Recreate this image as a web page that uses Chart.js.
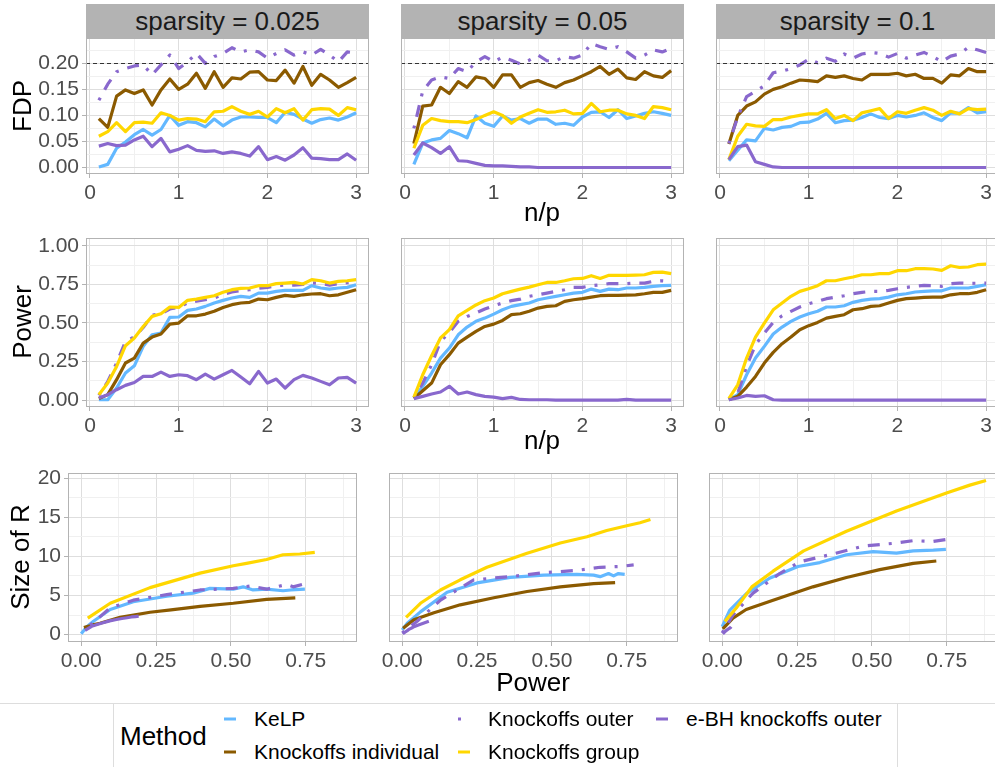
<!DOCTYPE html>
<html>
<head>
<meta charset="utf-8">
<script src="https://cdn.jsdelivr.net/npm/chart.js@4.4.1/dist/chart.umd.min.js"></script>
<style>
  html, body { margin: 0; padding: 0; background: #fff; overflow: hidden; }
  body { width: 995px; height: 767px; position: relative; font-family: 'Liberation Sans', Arial, sans-serif; }
  canvas { position: absolute; }
  .strip { position: absolute; background: #B3B3B3; color: #1a1a1a; font-size: 26px;
           display: flex; align-items: center; justify-content: center; }
  .title { position: absolute; transform: translate(-50%, -50%); white-space: nowrap; color: #000; font-size: 26px; }
  .ytitle { transform: translate(-50%, -50%) rotate(-90deg); }
  .legbox { position: absolute; border-left: 1px solid #DDDDDD; border-right: 1px solid #DDDDDD; }
  .legline { position: absolute; height: 1px; background: #DDDDDD; }
  .legtext { position: absolute; transform: translateY(-50%); white-space: nowrap; color: #000; font-size: 21px; }
</style>
</head>
<body>
<script>
// ---- data ----
const sparsity = ['0.025', '0.05', '0.1'];
const methods = ['KeLP', 'Knockoffs individual', 'Knockoffs outer', 'Knockoffs group', 'e-BH knockoffs outer'];
const nOverP = [0.1, 0.2, 0.3, 0.4, 0.5, 0.6, 0.7, 0.8, 0.9, 1.0, 1.1, 1.2, 1.3, 1.4, 1.5,
                1.6, 1.7, 1.8, 1.9, 2.0, 2.1, 2.2, 2.3, 2.4, 2.5, 2.6, 2.7, 2.8, 2.9, 3.0];

// FDP, sparsity 0.025
const fdpKelp025  = [0.001,0.006,0.037,0.049,0.063,0.073,0.062,0.073,0.100,0.081,0.088,0.086,0.078,0.093,0.080,0.091,0.097,0.097,0.096,0.096,0.086,0.106,0.102,0.093,0.085,0.092,0.095,0.091,0.097,0.105];
const fdpIndiv025 = [0.094,0.077,0.137,0.149,0.142,0.149,0.120,0.149,0.170,0.150,0.160,0.181,0.152,0.184,0.154,0.172,0.170,0.183,0.184,0.168,0.167,0.187,0.162,0.194,0.158,0.179,0.168,0.154,0.163,0.173];
const fdpOuter025 = [0.129,0.160,0.184,0.190,0.195,0.197,0.178,0.197,0.216,0.190,0.203,0.219,0.200,0.213,0.219,0.230,0.222,0.226,0.222,0.210,0.219,0.226,0.216,0.222,0.216,0.227,0.216,0.203,0.222,0.220];
const fdpGroup025 = [0.060,0.069,0.086,0.069,0.086,0.087,0.085,0.105,0.100,0.091,0.094,0.093,0.088,0.107,0.108,0.117,0.108,0.102,0.108,0.097,0.113,0.105,0.113,0.091,0.111,0.113,0.112,0.100,0.115,0.111];
const fdpEbh025   = [0.041,0.046,0.042,0.043,0.053,0.060,0.040,0.056,0.030,0.035,0.042,0.033,0.031,0.032,0.027,0.030,0.027,0.022,0.040,0.015,0.021,0.014,0.024,0.038,0.018,0.017,0.015,0.015,0.026,0.014];
// FDP, sparsity 0.05
const fdpKelp05  = [0.006,0.047,0.053,0.056,0.071,0.065,0.057,0.099,0.085,0.079,0.099,0.091,0.094,0.085,0.093,0.093,0.083,0.085,0.081,0.097,0.106,0.107,0.096,0.111,0.094,0.099,0.104,0.107,0.104,0.100];
const fdpIndiv05 = [0.046,0.118,0.120,0.154,0.142,0.165,0.154,0.174,0.171,0.154,0.178,0.178,0.154,0.163,0.167,0.160,0.154,0.163,0.168,0.176,0.184,0.194,0.179,0.189,0.172,0.169,0.184,0.176,0.173,0.186];
const fdpOuter05 = [0.075,0.147,0.168,0.174,0.171,0.190,0.184,0.203,0.213,0.203,0.212,0.206,0.199,0.206,0.216,0.205,0.205,0.213,0.210,0.216,0.238,0.232,0.227,0.232,0.222,0.210,0.216,0.226,0.222,0.229];
const fdpGroup05 = [0.037,0.081,0.094,0.090,0.088,0.088,0.086,0.092,0.100,0.107,0.100,0.085,0.097,0.104,0.111,0.106,0.107,0.110,0.103,0.104,0.123,0.107,0.110,0.110,0.103,0.100,0.094,0.117,0.115,0.111];
const fdpEbh05   = [0.024,0.047,0.038,0.027,0.040,0.013,0.012,0.008,0.004,0.003,0.003,0.002,0.001,0.001,0,0,0,0,0,0,0,0,0,0,0,0,0,0,0,0];
// FDP, sparsity 0.1
const fdpKelp1  = [0.013,0.033,0.053,0.051,0.075,0.072,0.077,0.079,0.086,0.087,0.093,0.104,0.086,0.090,0.091,0.096,0.103,0.096,0.094,0.100,0.097,0.100,0.105,0.096,0.090,0.105,0.104,0.115,0.105,0.107];
const fdpIndiv1 = [0.045,0.100,0.118,0.126,0.141,0.150,0.155,0.162,0.168,0.167,0.165,0.176,0.173,0.176,0.171,0.168,0.179,0.179,0.179,0.181,0.176,0.179,0.171,0.171,0.162,0.178,0.176,0.190,0.184,0.184];
const fdpOuter1 = [0.046,0.097,0.136,0.146,0.157,0.182,0.185,0.190,0.197,0.208,0.201,0.210,0.204,0.218,0.210,0.218,0.221,0.219,0.212,0.219,0.210,0.216,0.221,0.213,0.203,0.214,0.218,0.231,0.226,0.221];
const fdpGroup1 = [0.015,0.060,0.083,0.080,0.079,0.092,0.092,0.097,0.100,0.103,0.103,0.111,0.094,0.100,0.090,0.105,0.109,0.113,0.094,0.107,0.104,0.110,0.115,0.110,0.100,0.108,0.103,0.113,0.111,0.112];
const fdpEbh1   = [0.015,0.040,0.043,0.011,0.006,0.001,0,0,0,0,0,0,0,0,0,0,0,0,0,0,0,0,0,0,0,0,0,0,0,0];

// Power, sparsity 0.025
const powKelp025  = [0.002,0.002,0.078,0.175,0.222,0.348,0.423,0.434,0.536,0.538,0.581,0.590,0.607,0.629,0.646,0.661,0.672,0.665,0.693,0.693,0.704,0.711,0.711,0.711,0.741,0.726,0.719,0.726,0.730,0.747];
const powIndiv025 = [0.009,0.035,0.132,0.240,0.272,0.369,0.408,0.428,0.492,0.499,0.546,0.546,0.557,0.575,0.600,0.618,0.629,0.633,0.654,0.650,0.665,0.678,0.672,0.682,0.687,0.689,0.676,0.682,0.698,0.715];
const powOuter025 = [0.030,0.120,0.240,0.380,0.410,0.470,0.550,0.560,0.590,0.600,0.630,0.640,0.650,0.660,0.685,0.700,0.710,0.715,0.725,0.730,0.740,0.745,0.745,0.750,0.760,0.755,0.745,0.755,0.760,0.765];
const powGroup025 = [0.035,0.110,0.218,0.352,0.402,0.477,0.542,0.559,0.603,0.600,0.646,0.654,0.665,0.676,0.698,0.715,0.724,0.726,0.741,0.741,0.754,0.758,0.762,0.752,0.780,0.773,0.758,0.769,0.773,0.780];
const powEbh025   = [0.013,0.035,0.067,0.095,0.114,0.153,0.153,0.181,0.153,0.164,0.158,0.132,0.168,0.136,0.164,0.192,0.149,0.106,0.186,0.110,0.136,0.078,0.132,0.160,0.143,0.121,0.099,0.143,0.147,0.110];
// Power, sparsity 0.05
const powKelp05  = [0.013,0.089,0.175,0.272,0.337,0.423,0.473,0.510,0.531,0.557,0.585,0.607,0.618,0.629,0.650,0.661,0.672,0.682,0.693,0.698,0.719,0.704,0.719,0.715,0.726,0.726,0.730,0.737,0.741,0.743];
const powIndiv05 = [0.009,0.060,0.110,0.229,0.294,0.369,0.408,0.445,0.477,0.492,0.516,0.553,0.559,0.575,0.596,0.607,0.611,0.639,0.650,0.657,0.667,0.676,0.678,0.678,0.680,0.682,0.689,0.698,0.698,0.711];
const powOuter05 = [0.017,0.110,0.229,0.380,0.438,0.510,0.542,0.564,0.590,0.611,0.629,0.644,0.654,0.672,0.682,0.693,0.704,0.715,0.730,0.730,0.741,0.747,0.754,0.754,0.754,0.758,0.758,0.769,0.773,0.769];
const powGroup05 = [0.017,0.164,0.287,0.402,0.456,0.546,0.581,0.616,0.644,0.661,0.689,0.704,0.719,0.732,0.747,0.762,0.762,0.773,0.786,0.788,0.806,0.788,0.808,0.808,0.808,0.810,0.812,0.827,0.829,0.819];
const powEbh05   = [0.009,0.024,0.039,0.052,0.089,0.039,0.052,0.035,0.024,0.019,0.009,0.017,0.004,0.002,0.002,0.002,0,0,0,0,0,0,0,0,0.004,0,0,0,0,0];
// Power, sparsity 0.1
const powKelp1  = [0.002,0.035,0.164,0.272,0.348,0.428,0.473,0.510,0.538,0.559,0.575,0.603,0.603,0.611,0.633,0.646,0.654,0.657,0.667,0.682,0.689,0.700,0.704,0.708,0.708,0.726,0.726,0.726,0.737,0.747];
const powIndiv1 = [0.002,0.024,0.084,0.153,0.240,0.309,0.365,0.408,0.456,0.482,0.503,0.531,0.542,0.553,0.585,0.592,0.607,0.611,0.629,0.646,0.657,0.661,0.665,0.667,0.667,0.682,0.689,0.689,0.698,0.715];
const powOuter1 = [0.006,0.045,0.218,0.359,0.434,0.503,0.546,0.575,0.603,0.624,0.639,0.657,0.667,0.676,0.689,0.698,0.704,0.704,0.711,0.721,0.730,0.737,0.743,0.741,0.737,0.754,0.758,0.756,0.757,0.758];
const powGroup1 = [0.009,0.099,0.272,0.408,0.499,0.585,0.629,0.672,0.704,0.721,0.741,0.773,0.773,0.786,0.797,0.812,0.812,0.819,0.819,0.838,0.838,0.851,0.851,0.849,0.840,0.870,0.859,0.862,0.877,0.881];
const powEbh1   = [0.002,0.013,0.030,0.024,0.028,0.002,0,0,0,0,0,0,0,0,0,0,0,0,0,0,0,0,0,0,0,0,0,0,0,0];

// Size of rejection set vs power, [power, size]
const rejKelp025  = [[0,0.1],[0.019,1.0],[0.041,1.7],[0.097,3.2],[0.174,4.2],[0.286,4.9],[0.374,5.3],[0.43,5.9],[0.508,5.8],[0.541,6.1],[0.574,5.7],[0.619,5.8],[0.674,5.6],[0.70,5.7],[0.747,5.8]];
const rejIndiv025 = [[0.009,0.9],[0.035,1.2],[0.063,1.45],[0.13,2.2],[0.23,2.85],[0.30,3.15],[0.397,3.6],[0.508,4.0],[0.619,4.5],[0.715,4.7]];
const rejOuter025 = [[0.03,1.2],[0.097,3.4],[0.174,4.4],[0.286,5.1],[0.397,5.7],[0.508,5.9],[0.563,6.2],[0.619,5.8],[0.686,6.4],[0.708,6.1],[0.747,6.5],[0.765,6.3]];
const rejGroup025 = [[0.022,2.1],[0.097,4.0],[0.23,6.0],[0.397,7.85],[0.508,8.8],[0.552,9.1],[0.619,9.6],[0.674,10.2],[0.73,10.3],[0.78,10.5]];
const rejEbh025   = [[0.013,0.55],[0.035,1.05],[0.067,1.45],[0.095,1.75],[0.114,1.9],[0.136,2.05],[0.153,2.15],[0.168,2.25],[0.181,2.3],[0.192,2.35]];

const rejKelp05  = [[0,0.6],[0.017,1.45],[0.061,2.9],[0.15,5.4],[0.25,6.6],[0.361,7.3],[0.472,7.6],[0.583,7.7],[0.639,7.6],[0.661,7.4],[0.689,7.8],[0.706,7.5],[0.722,7.8],[0.743,7.7]];
const rejIndiv05 = [[0.003,0.8],[0.039,1.9],[0.106,2.8],[0.194,3.8],[0.306,4.7],[0.417,5.5],[0.528,6.1],[0.639,6.5],[0.711,6.65]];
const rejOuter05 = [[0,0.2],[0.05,1.7],[0.128,4.4],[0.239,7.0],[0.361,7.4],[0.472,7.9],[0.583,8.2],[0.661,8.6],[0.728,8.7],[0.773,8.9]];
const rejGroup05 = [[0.013,2.2],[0.061,4.0],[0.128,5.7],[0.194,7.0],[0.283,8.6],[0.417,10.4],[0.528,11.7],[0.617,12.5],[0.683,13.3],[0.75,13.9],[0.794,14.3],[0.829,14.7]];
const rejEbh05   = [[0.002,0.1],[0.009,0.3],[0.017,0.5],[0.024,0.7],[0.035,0.9],[0.039,1.0],[0.052,1.2],[0.089,1.7]];

const rejKelp1  = [[0,1.0],[0.025,3.1],[0.08,5.2],[0.158,7.2],[0.253,8.7],[0.326,9.2],[0.415,10.2],[0.504,10.6],[0.582,10.4],[0.638,10.7],[0.705,10.8],[0.747,10.9]];
const rejIndiv1 = [[0.002,0.72],[0.036,2.1],[0.08,3.2],[0.17,4.4],[0.303,6.1],[0.415,7.3],[0.526,8.3],[0.638,9.1],[0.715,9.4]];
const rejOuter1 = [[0,0.2],[0.036,2.5],[0.103,5.3],[0.192,7.8],[0.259,9.3],[0.359,10.2],[0.47,11.3],[0.582,11.7],[0.638,12.0],[0.705,11.9],[0.758,12.2]];
const rejGroup1 = [[0.009,1.66],[0.047,3.4],[0.099,6.1],[0.17,8.1],[0.272,10.7],[0.415,13.2],[0.582,15.8],[0.749,18.1],[0.827,19.1],[0.881,19.7]];
const rejEbh1   = [[0.002,0.1],[0.013,0.5],[0.024,0.8],[0.028,0.9],[0.030,1.0]];

const fdrLevel = 0.2;

// tick values
const npTicks = [0, 1, 2, 3];
const npMinor = [0.5, 1.5, 2.5];
const fdpTicks = [0, 0.05, 0.1, 0.15, 0.2];
const fdpMinor = [0.025, 0.075, 0.125, 0.175, 0.225];
const powTicks = [0, 0.25, 0.5, 0.75, 1];
const powMinor = [0.125, 0.375, 0.625, 0.875];
const powXTicks = [0, 0.25, 0.5, 0.75];
const powXMinor = [0.125, 0.375, 0.625, 0.875];
const sizeTicks = [0, 5, 10, 15, 20];
const sizeMinor = [2.5, 7.5, 12.5, 17.5];

// ---- styling / layout ----
const FONT = "'Liberation Sans', Arial, sans-serif";
Chart.defaults.font.family = FONT;

const methodStyle = {
  'KeLP':                 { color: '#63B8FF', dash: [] },
  'Knockoffs individual': { color: '#8B5A00', dash: [] },
  'Knockoffs outer':      { color: '#8968CD', dash: [3, 9, 12, 9] },
  'Knockoffs group':      { color: '#FFD700', dash: [] },
  'e-BH knockoffs outer': { color: '#8968CD', dash: [] }
};

const PAD = 20;
const colLeftTop = [86, 401, 716];
const colLeftBottom = [68, 389, 709];
const panelW = 283, panelWBottom = 289;

const fmt2 = v => v.toFixed(2);
const fmt0 = v => String(v);

const panelDecor = {
  id: 'panelDecor',
  afterDatasetsDraw(chart, args, opts) {
    const { ctx, chartArea: a } = chart;
    ctx.save();
    if (opts.hline != null) {
      const y = Math.round(chart.scales.y.getPixelForValue(opts.hline)) + 0.5;
      ctx.strokeStyle = '#333333';
      ctx.lineWidth = 1;
      ctx.setLineDash([4, 3]);
      ctx.beginPath();
      ctx.moveTo(a.left, y);
      ctx.lineTo(a.right, y);
      ctx.stroke();
      ctx.setLineDash([]);
    }
    ctx.strokeStyle = '#B3B3B3';
    ctx.lineWidth = 1;
    ctx.strokeRect(a.left + 0.5, a.top + 0.5, a.right - a.left - 1, a.bottom - a.top - 1);
    ctx.restore();
  }
};

function tickList(major, minor) {
  return major.concat(minor).sort((a, b) => a - b).map(v => ({ value: v }));
}

function axis(range, major, minor, fmt, showLabels, fit) {
  const isMajor = c => c.tick && major.includes(c.tick.value);
  return {
    type: 'linear', min: range[0], max: range[1], bounds: 'data',
    afterBuildTicks: ax => { ax.ticks = tickList(major, minor); },
    afterFit: fit,
    border: { display: false },
    grid: {
      color: c => isMajor(c) ? '#DEDEDE' : '#F0F0F0',
      lineWidth: 1,
      drawTicks: showLabels,
      tickLength: 4,
      tickColor: c => isMajor(c) ? '#B3B3B3' : 'rgba(0,0,0,0)'
    },
    ticks: {
      display: showLabels, autoSkip: false, maxRotation: 0, minRotation: 0,
      padding: 3, color: '#4D4D4D', font: { size: 21 },
      callback: v => major.includes(v) ? fmt(v) : ''
    }
  };
}

function makePanel(p) {
  const yw = p.showY ? p.left - PAD : 0;
  const xh = 40;
  const cv = document.createElement('canvas');
  cv.width = yw + PAD + p.width + PAD;
  cv.height = PAD + p.height + xh;
  cv.style.left = (p.left - yw - PAD) + 'px';
  cv.style.top = (p.top - PAD) + 'px';
  document.body.appendChild(cv);

  const datasets = p.series.map((s, i) => ({
    label: methods[i],
    data: s,
    borderColor: methodStyle[methods[i]].color,
    borderDash: methodStyle[methods[i]].dash,
    borderWidth: 3.2,
    borderCapStyle: 'butt',
    borderJoinStyle: 'round',
    pointRadius: 0,
    tension: 0,
    fill: false,
    order: -i
  }));

  new Chart(cv, {
    type: 'line',
    data: { datasets },
    options: {
      responsive: false, animation: false, devicePixelRatio: 1,
      layout: { padding: { left: PAD, right: PAD, top: PAD, bottom: 0 } },
      plugins: { legend: { display: false }, tooltip: { enabled: false }, panelDecor: { hline: p.hline } },
      scales: {
        x: axis(p.xRange, p.xTicks, p.xMinor, p.xFmt, true, ax => { ax.height = xh; }),
        y: axis(p.yRange, p.yTicks, p.yMinor, p.yFmt, p.showY, ax => { ax.width = yw; })
      }
    },
    plugins: [panelDecor]
  });
}

const toPts = ys => nOverP.map((x, i) => ({ x, y: ys[i] }));
const pairPts = pr => pr.map(q => ({ x: q[0], y: q[1] }));

const fdpSeries = [
  [fdpKelp025, fdpIndiv025, fdpOuter025, fdpGroup025, fdpEbh025],
  [fdpKelp05, fdpIndiv05, fdpOuter05, fdpGroup05, fdpEbh05],
  [fdpKelp1, fdpIndiv1, fdpOuter1, fdpGroup1, fdpEbh1]
];
const powSeries = [
  [powKelp025, powIndiv025, powOuter025, powGroup025, powEbh025],
  [powKelp05, powIndiv05, powOuter05, powGroup05, powEbh05],
  [powKelp1, powIndiv1, powOuter1, powGroup1, powEbh1]
];
const rejSeries = [
  [rejKelp025, rejIndiv025, rejOuter025, rejGroup025, rejEbh025],
  [rejKelp05, rejIndiv05, rejOuter05, rejGroup05, rejEbh05],
  [rejKelp1, rejIndiv1, rejOuter1, rejGroup1, rejEbh1]
];

for (let c = 0; c < 3; c++) {
  makePanel({
    left: colLeftTop[c], top: 38, width: panelW, height: 136, showY: c === 0,
    xRange: [-0.045, 3.145], xTicks: npTicks, xMinor: npMinor, xFmt: fmt0,
    yRange: [-0.0125, 0.2487], yTicks: fdpTicks, yMinor: fdpMinor, yFmt: fmt2,
    series: fdpSeries[c].map(toPts), hline: fdrLevel
  });
  makePanel({
    left: colLeftTop[c], top: 238, width: panelW, height: 169, showY: c === 0,
    xRange: [-0.045, 3.145], xTicks: npTicks, xMinor: npMinor, xFmt: fmt0,
    yRange: [-0.045, 1.05], yTicks: powTicks, yMinor: powMinor, yFmt: fmt2,
    series: powSeries[c].map(toPts), hline: null
  });
  makePanel({
    left: colLeftBottom[c], top: 473, width: panelWBottom, height: 169, showY: c === 0,
    xRange: [-0.044, 0.921], xTicks: powXTicks, xMinor: powXMinor, xFmt: fmt2,
    yRange: [-0.95, 20.65], yTicks: sizeTicks, yMinor: sizeMinor, yFmt: fmt0,
    series: rejSeries[c].map(pairPts), hline: null
  });

  const strip = document.createElement('div');
  strip.className = 'strip';
  strip.style.cssText = `left:${colLeftTop[c]}px;top:4px;width:${panelW}px;height:34px;`;
  strip.textContent = 'sparsity = ' + sparsity[c];
  document.body.appendChild(strip);
}

function addText(txt, cls, x, y) {
  const d = document.createElement('div');
  d.className = cls;
  d.style.left = x + 'px';
  d.style.top = y + 'px';
  d.textContent = txt;
  document.body.appendChild(d);
  return d;
}

addText('FDP', 'title ytitle', 22, 106);
addText('Power', 'title ytitle', 22, 322);
addText('Size of R', 'title ytitle', 20, 557);
addText('n/p', 'title', 542, 212);
addText('n/p', 'title', 542, 440);
addText('Power', 'title', 533, 682);

// legend
const topLine = document.createElement('div');
topLine.className = 'legline';
topLine.style.cssText = 'left:0px;top:703px;width:995px;';
document.body.appendChild(topLine);
const box = document.createElement('div');
box.className = 'legbox';
box.style.cssText = 'left:113px;top:703px;width:783px;height:90px;';
document.body.appendChild(box);
addText('Method', 'legtext', 120, 736).style.fontSize = '26px';

const legendSlots = [
  { m: 'KeLP', x: 223, y: 719 },
  { m: 'Knockoffs individual', x: 223, y: 752 },
  { m: 'Knockoffs outer', x: 457, y: 719 },
  { m: 'Knockoffs group', x: 457, y: 752 },
  { m: 'e-BH knockoffs outer', x: 655, y: 719 }
];
legendSlots.forEach(s => {
  const k = document.createElement('canvas');
  k.width = 14; k.height = 8;
  k.style.left = s.x + 'px';
  k.style.top = (s.y - 4) + 'px';
  document.body.appendChild(k);
  const g = k.getContext('2d');
  g.strokeStyle = methodStyle[s.m].color;
  g.lineWidth = 3;
  g.lineCap = 'butt';
  g.setLineDash(methodStyle[s.m].dash);
  g.beginPath(); g.moveTo(1, 4); g.lineTo(13, 4); g.stroke();
  addText(s.m, 'legtext', s.x + 31, s.y);
});
</script>
</body>
</html>
